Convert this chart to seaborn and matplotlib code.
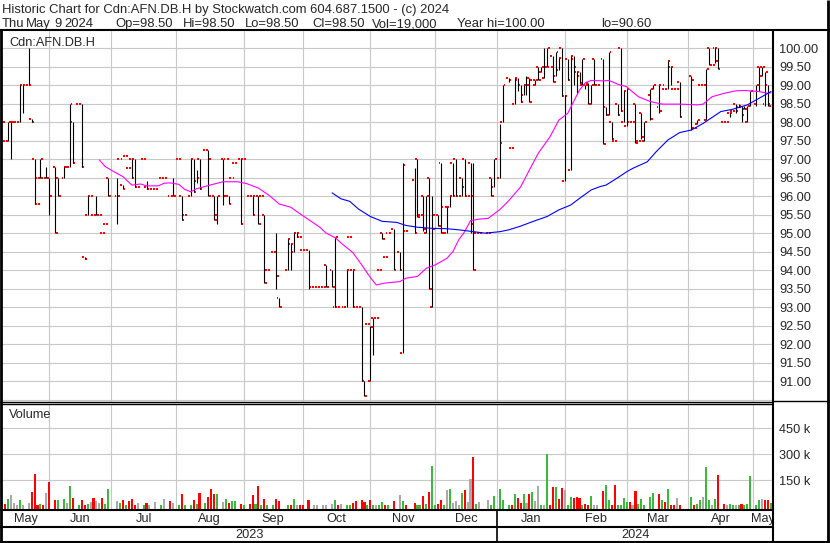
import numpy as np
import pandas as pd
import matplotlib
matplotlib.use("Agg")
import matplotlib.pyplot as plt
from matplotlib.lines import Line2D
import seaborn as sns

W, H = 830, 543

# weekday index: 0 = Wed May 10 2023 ... 261 = Thu May 9 2024 (days with trades only)
day = [0, 1, 2, 3, 4, 5, 6, 7, 9, 10,
       11, 12, 13, 14, 15, 16, 18, 19, 21, 22,
       23, 24, 26, 27, 28, 29, 30, 31, 32, 33,
       34, 35, 36, 39, 40, 41, 42, 43, 44, 45,
       46, 48, 49, 50, 52, 54, 55, 57, 58, 60,
       61, 62, 64, 65, 66, 67, 69, 70, 71, 72,
       73, 75, 76, 77, 78, 79, 81, 82, 84, 85,
       86, 87, 88, 89, 90, 92, 93, 94, 97, 98,
       99, 100, 101, 102, 104, 106, 107, 109, 110, 112,
       113, 114, 115, 117, 118, 119, 120, 122, 123, 124,
       125, 126, 127, 128, 129, 130, 131, 133, 135, 136,
       137, 140, 141, 142, 143, 144, 145, 146, 147, 148,
       149, 150, 151, 152, 153, 154, 155, 156, 157, 158,
       159, 160, 161, 162, 165, 166, 167, 169, 170, 172,
       173, 174, 175, 176, 177, 178, 179, 180, 181, 182,
       183, 184, 185, 186, 187, 188, 189, 190, 191, 192,
       193, 194, 195, 196, 197, 198, 199, 200, 201, 202,
       204, 205, 206, 207, 208, 209, 210, 211, 212, 213,
       214, 215, 216, 217, 218, 220, 221, 223, 224, 225,
       226, 227, 228, 229, 230, 234, 235, 236, 237, 238,
       239, 240, 241, 242, 243, 245, 246, 247, 248, 249,
       250, 251, 252, 253, 254, 256, 257, 258, 259, 260,
       261]
op = [98, 97.5, 97.5, 98, 98, 98, 98, 99, 99, 98.1,
      97, 95.8, 96.5, 96.5, 96.5, 96.5, 96.8, 96.5, 96.5, 96.8,
      96.8, 98, 98.5, 98.5, 94.35, 95.5, 96, 95.5, 95.5, 95.5,
      95, 95.25, 96.5, 96, 97, 96.3, 97.1, 96.75, 97, 97,
      96.25, 97, 96.25, 96.2, 96.2, 96.5, 96.5, 96, 96, 97,
      96, 95.5, 96, 97, 96.4, 97, 97.25, 97.25, 96, 96,
      95.5, 97, 97, 96, 96.5, 96.9, 97, 97, 96, 96,
      96, 96, 96, 95.5, 94, 94.5, 94.5, 93.25, 94, 94.7,
      94.5, 95, 94.9, 94.55, 94.55, 93.55, 93.55, 93.55, 94.15, 94,
      93, 93, 93, 93, 94.9, 94, 93, 93, 91, 92.55,
      91, 92.7, 92.7, 94, 95, 94.35, 95, 95.1, 94.5, 91.75,
      95.05, 96.45, 97, 95.5, 96, 95, 96.5, 93, 95.5, 95.5,
      96.9, 95.7, 95, 95.7, 96.9, 97, 96, 96.5, 97, 96,
      96.9, 95.25, 95, 95, 95, 96.5, 96.25, 96.5, 98, 99.2,
      97.3, 98.5, 99.2, 99, 98.75, 99, 99.2, 99.15, 99, 99.5,
      99.35, 99.2, 99.5, 99.5, 99.8, 99.25, 99.4, 100, 96.4, 99.7,
      96.7, 99.8, 99.35, 99.35, 99, 99, 99.05, 98.5, 99.7, 99,
      99.7, 98.4, 98.2, 98, 97.5, 98.5, 100, 98, 97.9, 98,
      98, 98.5, 97.5, 98.25, 97.5, 98.75, 98.9, 98.4, 99, 98.9,
      98.9, 99.5, 98.9, 98.9, 99.1, 99.25, 97.85, 97.95, 99, 99,
      98.05, 100, 99.55, 100, 100, 98, 98, 98.25, 98.3, 98.5,
      98.4, 98.45, 98.35, 98, 98.45, 98.5, 99.5, 99.25, 98.5, 99,
      98.5]
hi = [98, 97.5, 98, 98, 98, 98, 99, 99, 100, 98.1,
      97, 95.8, 97, 96.5, 96.8, 96.5, 96.8, 96.5, 96.8, 96.8,
      98.5, 98, 98.5, 98.5, 94.35, 96, 96, 95.5, 96, 95.5,
      95, 95.25, 96.5, 96.5, 97, 96.3, 97.1, 96.75, 97, 97,
      96.25, 97, 96.4, 96.2, 96.2, 96.5, 96.5, 96, 96.5, 97,
      96, 95.5, 97, 97, 96.7, 97, 97.25, 97.25, 96, 96,
      96, 97, 97, 96, 96.5, 96.9, 97, 97, 96, 96,
      96, 96, 96, 95.5, 94, 94.5, 95, 93.25, 94.85, 94.7,
      95, 95, 94.9, 94.55, 94.55, 93.55, 93.55, 93.55, 94.15, 94,
      94.9, 93, 93, 94, 94.9, 94, 93, 93, 91, 92.55,
      92.5, 92.7, 92.7, 94, 95, 94.35, 95, 95.1, 94.5, 96.9,
      95.05, 96.75, 97, 95.5, 96, 96, 96.5, 96, 95.5, 95.5,
      96.9, 95.7, 95.7, 96, 96.9, 97, 96, 96.5, 97, 96,
      96.9, 96.9, 95, 95, 95, 96.5, 97, 97.95, 99, 99.2,
      97.3, 99.2, 99.2, 99, 99, 99.25, 99.2, 99.15, 99.15, 99.5,
      99.5, 100, 100, 99.5, 99.8, 99.9, 99.75, 100, 98.75, 99.7,
      99.8, 99.8, 99.35, 99.35, 99.7, 99, 99.05, 99, 99.7, 99,
      99.7, 98.4, 99.9, 98, 97.5, 98.5, 100, 98.85, 98.9, 98,
      98, 98.5, 97.5, 98.25, 98, 98.9, 99, 99, 99, 98.9,
      99.65, 99.5, 98.9, 98.9, 99.1, 99.25, 97.85, 98.05, 99, 99,
      99.45, 100, 99.55, 100, 100, 98, 98, 98.25, 98.3, 98.5,
      98.5, 98.45, 98.45, 98.45, 98.85, 99, 99.5, 99.5, 99.35, 99,
      98.5]
lo = [98, 97.5, 97.5, 97, 98, 98, 98, 98.25, 99, 98,
      95.8, 95.8, 96.5, 96.5, 96.5, 95.5, 95, 96, 96.5, 96.8,
      96.8, 96.9, 98.5, 96.8, 94.3, 95.5, 96, 95.5, 95.5, 95.5,
      95, 95.25, 96, 95.25, 97, 96.2, 97.1, 96.75, 96.5, 96.25,
      96.25, 97, 96.2, 96.2, 96.2, 96.5, 96.5, 96, 96, 97,
      95.35, 95.5, 96, 96.1, 96.35, 96.2, 97.25, 96, 96, 95.35,
      95.25, 95.75, 97, 95.8, 96.5, 96.9, 95.25, 97, 96, 95.5,
      96, 95.25, 96, 93.65, 94, 94.5, 93.5, 93, 94, 94,
      94.5, 94.9, 94.9, 94.55, 93.5, 93.55, 93.55, 93.55, 93.55, 93.55,
      93, 93, 93, 93, 94.9, 93, 93, 91, 90.6, 92.55,
      91, 91.7, 92.7, 94, 94.85, 94.35, 95, 94, 94, 91.75,
      95.05, 95, 95.45, 95.5, 95.05, 95, 93.5, 93, 95.5, 95.2,
      95, 95.7, 95, 95.7, 96, 96, 96, 96, 96, 96,
      95, 94, 95, 95, 95, 96, 96.25, 96.5, 98, 99.1,
      97.3, 98.5, 98.85, 98.55, 98.75, 98.75, 98.55, 99.15, 99, 99.15,
      99.35, 99.2, 99.5, 99.5, 99.1, 99.25, 99.4, 98.7, 96.4, 99.15,
      96.7, 99, 98.8, 99.05, 99, 98.9, 98.5, 98.5, 99, 99,
      97.4, 98.2, 98.2, 97.55, 97.5, 98.2, 98.3, 98, 97.9, 98,
      98, 97.45, 97.5, 97.55, 97.5, 98.05, 98.9, 98.25, 99, 98.9,
      98.9, 99, 98.9, 98.9, 98.15, 97.8, 97.85, 97.95, 99, 99,
      98.05, 99.55, 99.55, 99.6, 99.45, 98, 98, 98.15, 98.3, 98.25,
      98.4, 98, 98.35, 98, 98.45, 98.45, 98.85, 99.25, 98.45, 98.45,
      98.5]
cl = [98, 97.5, 98, 98, 98, 98, 99, 99, 99, 98,
      96.5, 95.8, 97, 96.5, 96.5, 96, 95, 96, 96.8, 96.8,
      98.5, 96.9, 98.5, 96.8, 94.3, 96, 96, 95.5, 95.5, 95.5,
      95, 95.25, 96, 96, 97, 96.2, 97.1, 96.75, 96.5, 96.25,
      96.25, 97, 96.2, 96.2, 96.2, 96.5, 96.5, 96, 96, 97,
      95.35, 95.5, 97, 96.1, 96.5, 96.2, 97.25, 97, 96, 95.35,
      96, 96, 97, 95.8, 96.5, 96.9, 95.25, 97, 96, 95.5,
      96, 95.25, 96, 93.65, 94, 94.5, 93.85, 93, 94.85, 94.7,
      95, 95, 94.9, 94.55, 93.55, 93.55, 93.55, 93.55, 93.55, 93.55,
      94.9, 93, 93, 94, 94.9, 94, 93, 91, 90.6, 92.55,
      92.45, 92.7, 92.7, 94, 94.85, 94.35, 95, 94, 94, 96.85,
      95.05, 95, 95.45, 95.5, 95.1, 96, 93.5, 95.1, 95.5, 95.2,
      95, 95.7, 95.7, 96, 96, 96, 96, 96.25, 96, 96,
      96, 94, 95, 95, 95, 96, 97, 97.45, 99, 99.15,
      97.3, 99.15, 99, 98.55, 99, 99, 98.55, 99.15, 99.15, 99.15,
      99.5, 99.5, 100, 99.5, 99.1, 99.9, 99.75, 98.7, 98.7, 99.15,
      99.7, 99.5, 99.25, 99.05, 99.7, 99, 98.5, 99, 99, 99,
      97.4, 98.2, 99.9, 97.55, 97.5, 98.2, 98.3, 98.85, 98.9, 98,
      98, 97.45, 97.5, 97.6, 98, 98.1, 99, 98.3, 99, 98.9,
      99.65, 99.5, 98.9, 98.9, 98.15, 99.15, 97.85, 98.05, 99, 99,
      99.45, 99.55, 99.55, 99.65, 99.45, 98, 98, 98.25, 98.3, 98.3,
      98.4, 98.2, 98.35, 98.45, 98.85, 99, 99.5, 99.5, 99.35, 98.45,
      98.5]
vol_k = [23, 8, 40, 63, 17, 5, 35, 5, 17, 81,
         185, 3, 12, 5, 75, 138, 35, 35, 40, 17,
         115, 46, 5, 35, 5, 12, 23, 46, 29, 17,
         46, 12, 98, 29, 17, 35, 6, 29, 40, 6,
         17, 5, 17, 5, 23, 3, 40, 29, 17, 5,
         69, 5, 6, 35, 12, 75, 17, 52, 98, 69,
         69, 23, 40, 17, 29, 29, 12, 6, 12, 63,
         12, 115, 3, 40, 6, 3, 40, 29, 5, 3,
         40, 3, 6, 6, 35, 3, 3, 3, 3, 12,
         35, 3, 12, 6, 3, 17, 29, 35, 23, 3,
         35, 3, 3, 3, 23, 3, 5, 29, 63, 29,
         5, 17, 3, 3, 58, 12, 81, 231, 3, 12,
         35, 3, 92, 98, 17, 29, 3, 75, 92, 23,
         156, 283, 12, 23, 35, 3, 58, 98, 35, 3,
         3, 69, 46, 17, 69, 17, 69, 81, 29, 115,
         3, 3, 300, 3, 110, 110, 40, 104, 92, 6,
         52, 46, 52, 46, 3, 12, 6, 58, 6, 3,
         87, 121, 35, 3, 121, 6, 6, 46, 23, 23,
         3, 87, 12, 40, 3, 52, 75, 69, 35, 23,
         98, 3, 6, 46, 6, 52, 3, 12, 35, 52,
         225, 35, 6, 40, 179, 12, 3, 12, 5, 3,
         5, 12, 3, 12, 174, 5, 35, 40, 35, 35,
         19]

# moving averages (magenta = short, blue = long)
fast_day = [33, 35, 38, 41, 44, 47, 49, 53, 55, 57, 60, 62, 64, 66, 71, 75, 80, 83, 87, 91,
            94, 98, 101, 104, 108, 110, 113, 116, 119, 122, 125, 127, 130, 135, 137, 141, 144, 147, 151, 153,
            155, 157, 159, 162, 165, 169, 172, 176, 179, 182, 186, 189, 192, 194, 196, 198, 200, 204, 206, 209,
            212, 213, 216, 220, 224, 230, 236, 238, 241, 245, 249, 252, 257, 260, 261]
fast_ma = [96.98, 96.8, 96.66, 96.53, 96.3, 96.33, 96.28, 96.28, 96.35, 96.36, 96.32, 96.18, 96.12, 96.2, 96.31, 96.39, 96.39, 96.34, 96.22, 96.0,
           95.79, 95.7, 95.53, 95.37, 95.15, 95.0, 94.88, 94.67, 94.48, 94.15, 93.8, 93.6, 93.65, 93.69, 93.78, 93.83, 94.05, 94.14, 94.32, 94.5,
           94.82, 95.04, 95.34, 95.38, 95.4, 95.64, 95.88, 96.25, 96.71, 97.16, 97.61, 98.06, 98.24, 98.56, 98.87, 99.07, 99.13, 99.12, 99.13, 99.03,
           98.96, 98.89, 98.69, 98.56, 98.49, 98.49, 98.47, 98.49, 98.69, 98.78, 98.85, 98.86, 98.83, 98.78, 98.8]
slow_day = [112, 115, 118, 121, 125, 129, 134, 137, 141, 146, 151, 155, 160, 164, 169, 172, 176, 180, 185, 189,
            193, 196, 200, 203, 205, 209, 212, 214, 219, 222, 226, 230, 234, 238, 244, 248, 253, 257, 261]
slow_ma = [96.09, 95.93, 95.86, 95.65, 95.45, 95.32, 95.29, 95.21, 95.16, 95.13, 95.12, 95.09, 95.04, 95.0, 95.04, 95.09, 95.19, 95.31, 95.45, 95.63,
           95.76, 95.94, 96.17, 96.26, 96.3, 96.5, 96.66, 96.75, 96.93, 97.2, 97.52, 97.72, 97.79, 97.97, 98.29, 98.35, 98.47, 98.65, 98.83]

month_start = [16, 37, 59, 82, 102, 125, 147, 168, 191, 212, 233, 255]
month_names = ["May", "Jun", "Jul", "Aug", "Sep", "Oct", "Nov", "Dec",
               "Jan", "Feb", "Mar", "Apr", "May"]
year_start = 168
year_names = ["2023", "2024"]
vol_ticks = [150000, 300000, 450000]
vol_labels = ["150 k", "300 k", "450 k"]

header1 = "Historic Chart for Cdn:AFN.DB.H by Stockwatch.com 604.687.1500 - (c) 2024"
# second header line: pieces and their left x in pixels
header2 = ["Thu", "May", "9", "2024", "Op=98.50", "Hi=98.50", "Lo=98.50",
           "Cl=98.50", "Vol=19,000", "Year hi=100.00", "lo=90.60"]
header2_x = [2, 25.5, 54, 64, 115, 183, 245, 312, 372, 457, 601]

sns.set_style("white")
plt.rcParams["font.family"] = ["Liberation Sans", "DejaVu Sans"]
FS = 9.2
HFS = 9.35
GRID = "#c8c8c8"

df = pd.DataFrame({"day": day, "op": op, "hi": hi, "lo": lo, "cl": cl,
                   "vol": np.array(vol_k) * 1000.0})
chg = df["cl"].diff().fillna(0)
df["color"] = np.where(chg > 0.001, "#3cb93c", np.where(chg < -0.001, "#ff0000", "#aaaaaa"))

fig = plt.figure(figsize=(W / 100, H / 100), dpi=100)


def box(x0, y0, x1, y1):
    return fig.add_axes([x0 / W, 1 - y1 / H, (x1 - x0) / W, (y1 - y0) / H])


def fline(xs, ys, lw):
    fig.add_artist(Line2D([x / W for x in xs], [1 - y / H for y in ys],
                          transform=fig.transFigure, color="black", lw=lw,
                          solid_capstyle="butt"))


X0, X1 = 2, 773.3
PXD = 2.9456
XLIM = ((X0 - 2.17) / PXD, (X1 - 2.17) / PXD)

# price panel
ax = box(X0, 31, X1, 401.7)
ax.set_xlim(XLIM)
ax.set_ylim(90.441, 100.468)
pticks = np.arange(90.5, 100.01, 0.5)
ax.set_xticks(month_start)
ax.set_yticks(pticks)
ax.set_yticklabels(["" if t < 90.9 else f"{t:.2f}" for t in pticks], fontsize=FS)
ax.grid(True, color=GRID, lw=0.8)
ax.set_axisbelow(True)
ax.tick_params(length=0, labelbottom=False, labelleft=False, labelright=True, pad=4.2)
for s in ax.spines.values():
    s.set_visible(False)

ax.hlines(df["op"], df["day"] - 0.85, df["day"] - 0.2, color="#ff0000", lw=1.45)
ax.hlines(df["cl"], df["day"] + 0.2, df["day"] + 0.85, color="#ff0000", lw=1.45)
ax.vlines(df["day"], df["lo"], df["hi"], color="black", lw=0.8)
sns.lineplot(x=fast_day, y=fast_ma, ax=ax, color="#ff00ff", lw=0.8, legend=False)
sns.lineplot(x=slow_day, y=slow_ma, ax=ax, color="#0000ff", lw=0.8, legend=False)
ax.set_xlabel("")
ax.set_ylabel("")
fig.text(9 / W, 1 - 46 / H, "Cdn:AFN.DB.H", fontsize=FS, va="baseline")

# volume panel
VMIN = -24000
axv = box(X0, 404, X1, 510)
axv.set_xlim(XLIM)
axv.set_ylim(VMIN, 591000)
axv.set_xticks(month_start)
axv.set_yticks(vol_ticks)
axv.set_yticklabels(vol_labels, fontsize=FS)
axv.grid(True, color=GRID, lw=0.8)
axv.set_axisbelow(True)
axv.tick_params(length=0, labelbottom=False, labelleft=False, labelright=True, pad=4.2)
for s in axv.spines.values():
    s.set_visible(False)
axv.bar(df["day"], df["vol"] - VMIN, bottom=VMIN, width=0.7, color=df["color"], lw=0)
fig.text(9 / W, 1 - 418 / H, "Volume", fontsize=FS, va="baseline")

# month and year rows
edges = [XLIM[0]] + month_start + [XLIM[1]]
axm = box(X0, 511, X1, 526)
axm.set_xlim(XLIM)
axm.set_ylim(0, 1)
axm.axis("off")
for name, a, b in zip(month_names, edges[:-1], edges[1:]):
    axm.text((a + b) / 2, 0.45, name, ha="center", va="center", fontsize=FS, clip_on=True)
axy = box(X0, 528, X1, 541)
axy.set_xlim(XLIM)
axy.set_ylim(0, 1)
axy.axis("off")
for name, a, b in zip(year_names, [XLIM[0], year_start], [year_start, XLIM[1]]):
    axy.text((a + b) / 2, 0.5, name, ha="center", va="center", fontsize=FS, clip_on=True)

# header
fig.text(2 / W, 1 - 12.7 / H, header1, fontsize=HFS, va="baseline")
for piece, px in zip(header2, header2_x):
    fig.text(px / W, 1 - 27.2 / H, piece, fontsize=HFS, va="baseline")

# frame lines
xsep = X0 + (year_start - XLIM[0]) * PXD
fline([0, W], [30, 30], 1.5)
fline([1, 1], [30, H], 2)
fline([827.5, 827.5], [0, H], 2)
fline([773.3, 773.3], [30, H], 1.5)
fline([0, 773.3], [401.7, 401.7], 1)
fline([0, 773.3], [404, 404], 1)
fline([773.3, W], [401, 401], 1)
fline([0, 773.3], [510, 510], 1.5)
fline([0, 773.3], [526.7, 526.7], 1.5)
fline([0, W], [541.8, 541.8], 1.5)
fline([xsep, xsep], [510, 541.8], 1.2)

fig.savefig("out.png", dpi=100)
